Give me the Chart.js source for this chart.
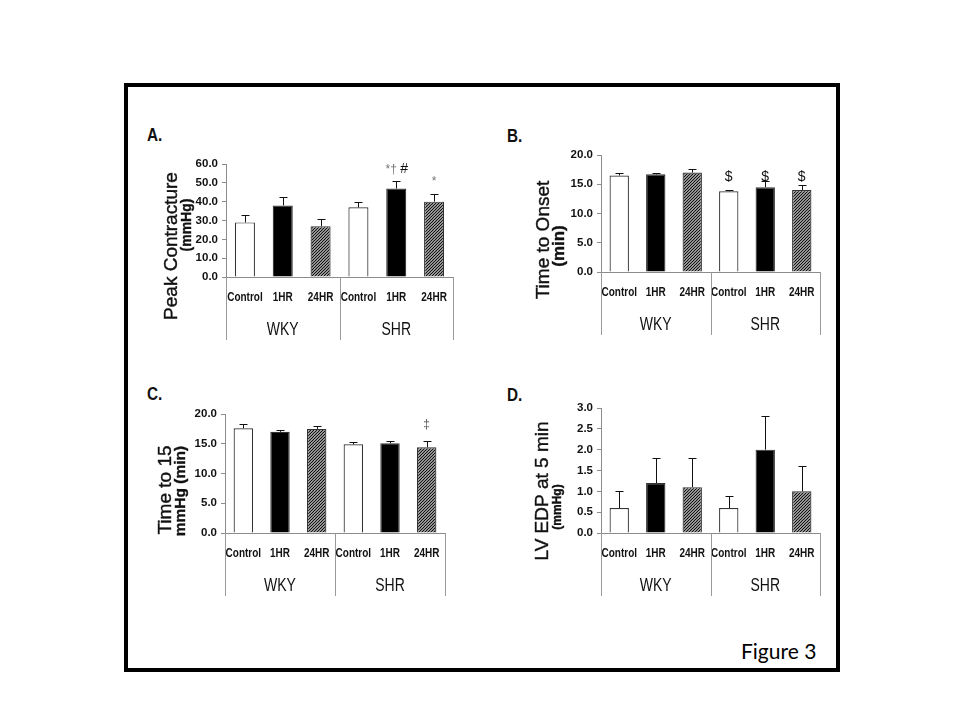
<!DOCTYPE html>
<html>
<head>
<meta charset="utf-8">
<script src="https://cdn.jsdelivr.net/npm/chart.js@4.4.1/dist/chart.umd.min.js"></script>
<style>
  body { margin: 0; background: #fff; width: 960px; height: 720px; position: relative; overflow: hidden; }
  #frame { position: absolute; left: 124px; top: 83px; width: 708px; height: 581px; border: 4px solid #000; }
  canvas { position: absolute; }
  .lbl { position: absolute; font: bold 18px 'Liberation Sans', Arial, sans-serif; color: #111; transform: scaleX(0.85); transform-origin: left top; }
  #fig { position: absolute; left: 741px; top: 638px; font: 21px Lato, 'Open Sans', sans-serif; color: #000; }
</style>
</head>
<body>
<div id="frame"></div>
<div class="lbl" style="left:147px;top:125px">A.</div>
<div class="lbl" style="left:507px;top:126px">B.</div>
<div class="lbl" style="left:147px;top:384px">C.</div>
<div class="lbl" style="left:507px;top:385px">D.</div>
<canvas id="chartA" width="340" height="250" style="left:130px;top:110px"></canvas>
<canvas id="chartB" width="340" height="250" style="left:490px;top:110px"></canvas>
<canvas id="chartC" width="340" height="240" style="left:130px;top:380px"></canvas>
<canvas id="chartD" width="340" height="240" style="left:490px;top:380px"></canvas>
<div id="fig">Figure 3</div>
<script>
// data
const categories = ['Control', '1HR', '24HR', 'Control', '1HR', '24HR'];
const groups = ['WKY', 'SHR'];

const peakMean = [29, 38, 27, 37, 47, 40];
const peakSem = [4, 4.5, 4, 3, 4, 4];
const peakTicks = [0, 10, 20, 30, 40, 50, 60];

const onsetMean = [16.5, 16.7, 17.0, 13.8, 14.5, 14.0];
const onsetSem = [0.5, 0.3, 0.6, 0.3, 1.1, 0.8];
const onsetTicks = [0, 5, 10, 15, 20];

const t15Mean = [17.6, 17.0, 17.5, 14.9, 15.1, 14.4];
const t15Sem = [0.7, 0.3, 0.5, 0.45, 0.4, 1.1];
const t15Ticks = [0, 5, 10, 15, 20];

const edpMean = [0.6, 1.2, 1.1, 0.6, 2.0, 1.0];
const edpSem = [0.4, 0.6, 0.7, 0.3, 0.8, 0.6];
const edpTicks = [0, 0.5, 1, 1.5, 2, 2.5, 3];

const ARIAL = "'Liberation Sans', Arial, sans-serif";

function hatch() {
  const c = document.createElement('canvas');
  c.width = c.height = 3;
  const g = c.getContext('2d');
  g.fillStyle = '#fff';
  g.fillRect(0, 0, 3, 3);
  g.strokeStyle = '#111';
  g.lineWidth = 1.3;
  g.beginPath();
  g.moveTo(-1, 4); g.lineTo(4, -1);
  g.moveTo(-1, 1); g.lineTo(1, -1);
  g.moveTo(2, 4); g.lineTo(4, 2);
  g.stroke();
  return g.createPattern(c, 'repeat');
}
const hatchFill = hatch();
const fills = ['#fff', '#000', hatchFill, '#fff', '#000', hatchFill];

// text squeezed sideways like the original scan
function squeezed(ctx, text, x, y, font, sx) {
  ctx.save();
  ctx.translate(x, y);
  ctx.scale(sx, 1);
  ctx.font = font;
  ctx.fillText(text, 0, 0);
  ctx.restore();
}

// error bars, category axis, titles and marks
const panelPlugin = {
  id: 'panel',
  afterDatasetsDraw(chart) {
    const o = chart.options.plugins.panel;
    const { ctx, scales: { x, y } } = chart;
    ctx.save();
    ctx.strokeStyle = '#111';
    ctx.lineWidth = 1;
    o.mean.forEach((m, i) => {
      const px = Math.round(x.getPixelForValue(i)) + 0.5;
      const y0 = y.getPixelForValue(m);
      const y1 = Math.round(y.getPixelForValue(m + o.sem[i])) + 0.5;
      ctx.beginPath();
      ctx.moveTo(px, y0); ctx.lineTo(px, y1);
      ctx.moveTo(px - 4, y1); ctx.lineTo(px + 4, y1);
      ctx.stroke();
    });
    ctx.restore();
  },
  afterDraw(chart) {
    const o = chart.options.plugins.panel;
    const { ctx, chartArea: a, scales: { x, y } } = chart;
    ctx.save();
    ctx.textAlign = 'center';
    ctx.textBaseline = 'middle';
    ctx.fillStyle = '#111';
    categories.forEach((c, i) => squeezed(ctx, c, x.getPixelForValue(i), a.bottom + 20, 'bold 13.5px ' + ARIAL, 0.74));
    // group separators and group names
    const mid = (x.getPixelForValue(2) + x.getPixelForValue(3)) / 2;
    const seps = [a.left, mid, a.right];
    ctx.strokeStyle = '#9a9a9a';
    ctx.lineWidth = 1;
    seps.forEach(sx => {
      const rx = Math.round(sx) + 0.5;
      ctx.beginPath();
      ctx.moveTo(rx, a.bottom); ctx.lineTo(rx, a.bottom + 63);
      ctx.stroke();
    });
    groups.forEach((g, i) => squeezed(ctx, g, (seps[i] + seps[i + 1]) / 2, a.bottom + 53, '17.5px ' + ARIAL, 0.8));
    // significance marks
    o.marks.forEach(mk => {
      ctx.fillStyle = mk.color;
      ctx.font = mk.font;
      ctx.fillText(mk.text, x.getPixelForValue(mk.i) + (mk.dx || 0), y.getPixelForValue(mk.v));
    });
    // rotated y titles
    o.titles.forEach(t => {
      ctx.save();
      ctx.translate(t.x, t.y);
      ctx.rotate(-Math.PI / 2);
      ctx.fillStyle = '#111';
      ctx.strokeStyle = '#111';
      ctx.lineWidth = 0.4;
      ctx.font = t.font;
      ctx.fillText(t.text, 0, 0);
      ctx.strokeText(t.text, 0, 0);
      ctx.restore();
    });
    ctx.restore();
  }
};

function makePanel(id, p) {
  new Chart(document.getElementById(id), {
    type: 'bar',
    data: {
      labels: categories,
      datasets: [{
        data: p.mean,
        backgroundColor: fills,
        borderColor: '#333',
        borderWidth: 1.2,
        barPercentage: 0.53,
        categoryPercentage: 1
      }]
    },
    options: {
      responsive: false,
      animation: false,
      layout: { padding: { top: p.top, right: p.right, bottom: 0, left: 0 } },
      plugins: {
        legend: { display: false },
        tooltip: { enabled: false },
        panel: p
      },
      scales: {
        x: {
          grid: { display: false },
          border: { color: '#8c8c8c' },
          ticks: { display: false },
          afterFit: s => { s.height = p.xh; }
        },
        y: {
          min: p.ticks[0],
          max: p.ticks[p.ticks.length - 1],
          grid: { drawOnChartArea: false, tickLength: 4, color: '#8c8c8c' },
          border: { color: '#8c8c8c' },
          ticks: { color: '#111', padding: 4, font: { family: ARIAL, size: 11.5, weight: 'bold' }, callback: v => Number(v).toFixed(1) },
          afterBuildTicks: ax => { ax.ticks = p.ticks.map(v => ({ value: v })); },
          afterFit: s => { s.width = p.yw; }
        }
      }
    },
    plugins: [panelPlugin]
  });
}

makePanel('chartA', {
  mean: peakMean, sem: peakSem, ticks: peakTicks,
  top: 54, right: 17, yw: 96, xh: 83,
  titles: [
    { text: 'Peak Contracture', font: '19px ' + ARIAL, x: 42, y: 136 },
    { text: '(mmHg)', font: 'bold 14px ' + ARIAL, x: 57, y: 115 }
  ],
  marks: [
    { i: 4, text: '*\u2020', v: 57, dx: -5, color: '#777', font: '12px ' + ARIAL },
    { i: 4, text: '#', v: 57.5, dx: 8, color: '#111', font: '14px ' + ARIAL },
    { i: 5, text: '*', v: 50.5, color: '#777', font: '12px ' + ARIAL }
  ]
});

makePanel('chartB', {
  mean: onsetMean, sem: onsetSem, ticks: onsetTicks,
  top: 45, right: 10, yw: 111, xh: 88,
  titles: [
    { text: 'Time to Onset', font: '19px ' + ARIAL, x: 54, y: 130 },
    { text: '(min)', font: 'bold 17px ' + ARIAL, x: 69, y: 136 }
  ],
  marks: [3, 4, 5].map(i => ({ i, text: '$', v: 16.3, color: '#111', font: '14px ' + ARIAL }))
});

makePanel('chartC', {
  mean: t15Mean, sem: t15Sem, ticks: t15Ticks,
  top: 34, right: 25, yw: 95, xh: 87,
  titles: [
    { text: 'Time to 15', font: '19px ' + ARIAL, x: 36, y: 110 },
    { text: 'mmHg (min)', font: 'bold 15.5px ' + ARIAL, x: 51, y: 111 }
  ],
  marks: [
    { i: 5, text: '\u2021', v: 18.2, color: '#555', font: '12px ' + ARIAL }
  ]
});

makePanel('chartD', {
  mean: edpMean, sem: edpSem, ticks: edpTicks,
  top: 28, right: 10, yw: 111, xh: 87,
  titles: [
    { text: 'LV EDP at 5 min', font: '19px ' + ARIAL, x: 53, y: 111 },
    { text: '(mmHg)', font: 'bold 12px ' + ARIAL, x: 68, y: 127 }
  ],
  marks: []
});
</script>
</body>
</html>
